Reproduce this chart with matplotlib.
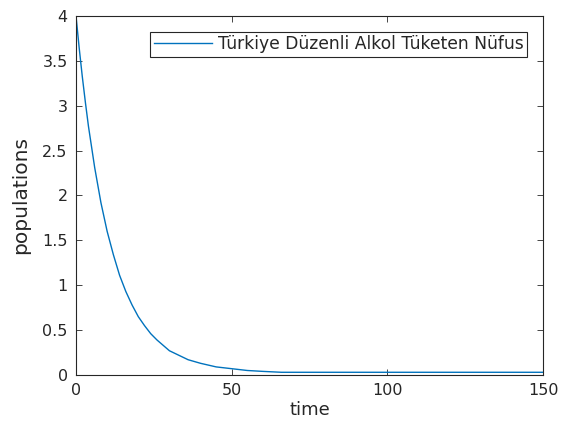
import numpy as np
import matplotlib
matplotlib.use('Agg')
import matplotlib.pyplot as plt

# values
time = [0, 1, 2, 3, 4, 6, 8, 10, 12, 14, 16, 18, 20, 22, 24, 26, 28, 30,
        33, 36, 40, 45, 50, 55, 60, 66, 80, 100, 150]
population = [4.00, 3.65, 3.33, 3.04, 2.77, 2.31, 1.92, 1.60, 1.34, 1.11, 0.93,
              0.78, 0.65, 0.55, 0.46, 0.39, 0.33, 0.27, 0.22, 0.17, 0.13, 0.09,
              0.07, 0.05, 0.04, 0.03, 0.03, 0.03, 0.03]

xticks = [0, 50, 100, 150]
yticks = [0, 0.5, 1, 1.5, 2, 2.5, 3, 3.5, 4]
ytick_labels = ['0', '0.5', '1', '1.5', '2', '2.5', '3', '3.5', '4']

axis_color = (0.15, 0.15, 0.15)

fig = plt.figure(figsize=(5.61, 4.32), dpi=100)
ax = fig.add_axes([0.1355, 0.132, 0.8325, 0.831])

ax.plot(time, population, color='#0072BD', linewidth=1.0,
        label='Türkiye Düzenli Alkol Tüketen Nüfus')

ax.set_xlim(0, 150)
ax.set_ylim(0, 4)
ax.set_xticks(xticks)
ax.set_yticks(yticks)
ax.set_yticklabels(ytick_labels)
ax.tick_params(direction='in', length=4, width=0.6, top=True, right=True,
               colors=axis_color, labelsize=11.5, pad=6)
for s in ax.spines.values():
    s.set_color(axis_color)
    s.set_linewidth(0.8)

ax.set_xlabel('time', fontsize=13, color=axis_color, labelpad=2)
ax.set_ylabel('populations', fontsize=14.5, color=axis_color, labelpad=9)

leg = ax.legend(loc='upper right', fontsize=12.3, fancybox=False,
                edgecolor=axis_color, framealpha=1, handlelength=3.4,
                borderpad=0.2, handletextpad=0.36, borderaxespad=0.94)
leg.get_frame().set_linewidth(0.8)
for t in leg.get_texts():
    t.set_color(axis_color)

fig.savefig('out.png', dpi=100)
